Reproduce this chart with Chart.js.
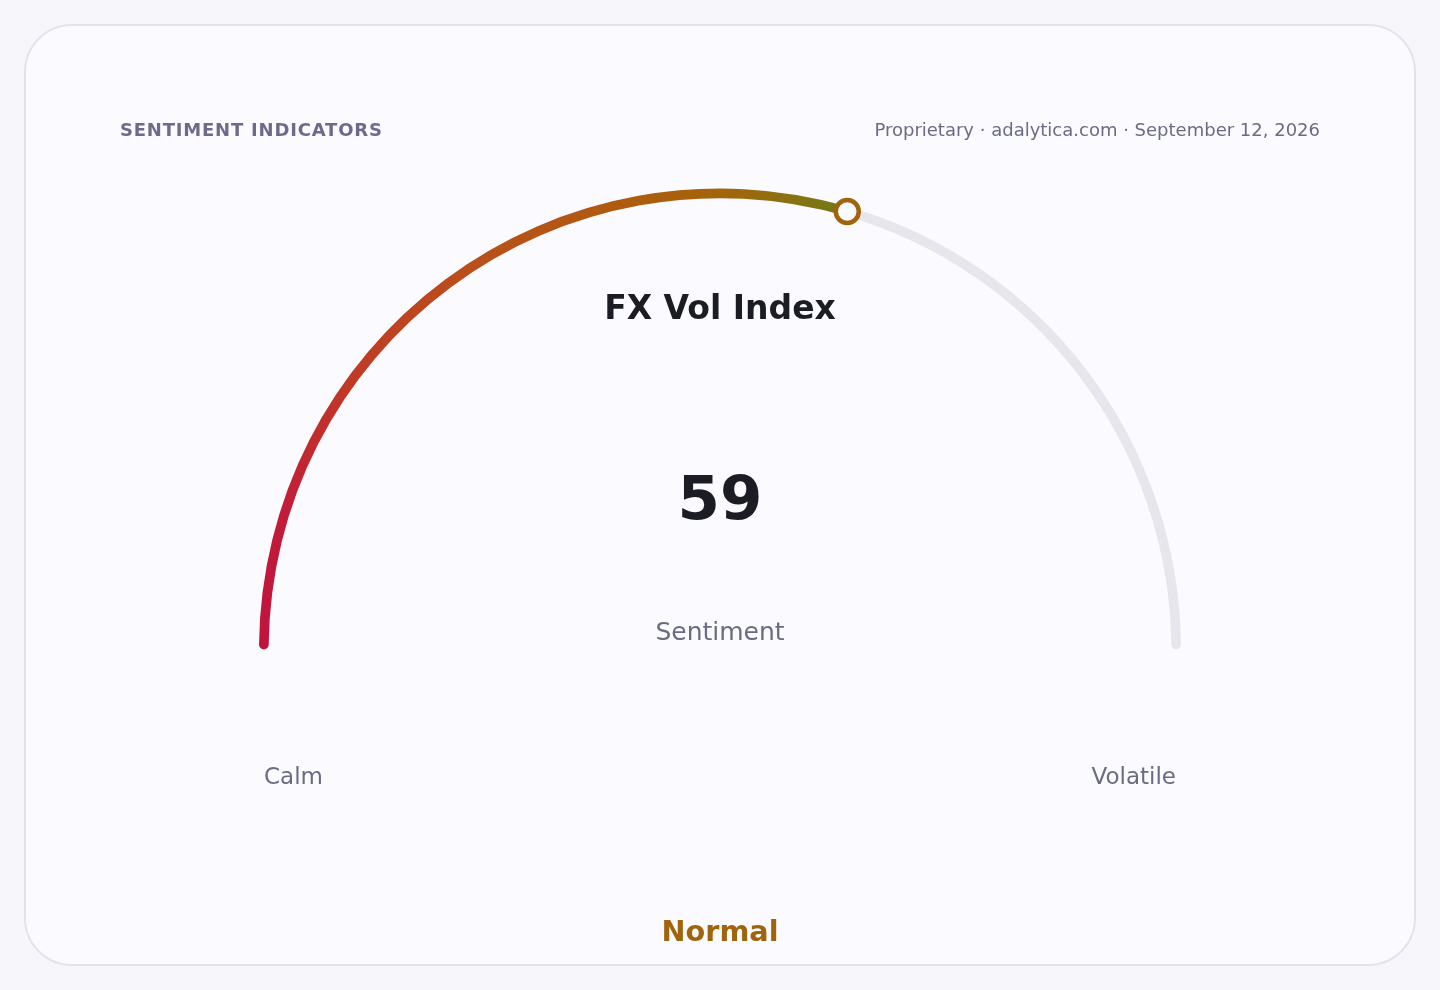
<!DOCTYPE html>
<html>
<head>
<meta charset="utf-8">
<script src="https://cdn.jsdelivr.net/npm/chart.js@4"></script>
<style>
  html, body { margin: 0; padding: 0; background: #f6f6fb; font-family: "DejaVu Sans", sans-serif; }
  .card {
    position: absolute; left: 24px; top: 24px; width: 1388px; height: 938px;
    background: #fafaff; border: 2px solid #e3e3ee; border-radius: 48px;
  }
  .wrap { position: absolute; left: 0; top: 0; width: 1440px; height: 990px; }
  .txt { position: absolute; white-space: nowrap; }
  #kicker { left: 120px; top: 119px; font-size: 18px; font-weight: bold; letter-spacing: 0.8px; color: #6e6a8c; }
  #source { right: 120px; top: 119px; font-size: 18px; color: #6b6b85; }
  #title { left: 0; width: 1440px; text-align: center; top: 288px; font-size: 33px; font-weight: bold; color: #1c1c24; }
  #value { left: 0; width: 1440px; text-align: center; top: 462px; font-size: 61px; font-weight: bold; color: #1c1c24; }
  #sub { left: 0; width: 1440px; text-align: center; top: 617px; font-size: 25px; color: #6b6b85; }
  #lo { left: 264px; top: 763px; font-size: 23px; color: #6b6b85; }
  #hi { right: 264px; top: 763px; font-size: 23px; color: #6b6b85; }
  #band { left: 0; width: 1440px; text-align: center; top: 914px; font-size: 28.7px; font-weight: bold; color: #a0650c; }
</style>
</head>
<body>
<div class="card"></div>
<div class="wrap"><canvas id="gauge"></canvas></div>
<div class="txt" id="kicker"></div>
<div class="txt" id="source"></div>
<div class="txt" id="title"></div>
<div class="txt" id="value"></div>
<div class="txt" id="sub"></div>
<div class="txt" id="lo"></div>
<div class="txt" id="hi"></div>
<div class="txt" id="band"></div>
<script>
const gaugeName = "FX Vol Index";
const gaugeValue = 59;
const gaugeMax = 100;
const endLabels = ["Calm", "Volatile"];
const bandLabel = "Normal";
const subLabel = "Sentiment";
const headerLeft = "SENTIMENT INDICATORS";
const headerRight = "Proprietary · adalytica.com · September 12, 2026";

document.getElementById("kicker").textContent = headerLeft;
document.getElementById("source").textContent = headerRight;
document.getElementById("title").textContent = gaugeName;
document.getElementById("value").textContent = gaugeValue;
document.getElementById("sub").textContent = subLabel;
document.getElementById("lo").textContent = endLabels[0];
document.getElementById("hi").textContent = endLabels[1];
document.getElementById("band").textContent = bandLabel;

// colour ramp along the dial (fraction of full turn, starting at the left end)
function arcFill(context) {
  const chart = context.chart;
  const area = chart.chartArea;
  if (!area || !isFinite(area.left) || !isFinite(area.bottom)) return "#b25a10";
  // half dial: centre sits on the bottom edge of the chart area
  const cx = (area.left + area.right) / 2;
  const cy = area.bottom;
  const g = chart.ctx.createConicGradient(Math.PI, cx, cy);
  g.addColorStop(0, "#c0133e");
  g.addColorStop(0.05, "#c11d38");
  g.addColorStop(0.1, "#c03a27");
  g.addColorStop(0.16, "#b9501a");
  g.addColorStop(0.21, "#b05a10");
  g.addColorStop(0.25, "#a4640a");
  g.addColorStop(0.275, "#8a7212");
  g.addColorStop(0.295, "#6e7a1a");
  g.addColorStop(0.5, "#3f8a2a");
  g.addColorStop(1, "#c0133e");
  return g;
}

const markerPlugin = {
  id: "marker",
  afterDatasetsDraw(chart) {
    const el = chart.getDatasetMeta(0).data[0];
    if (!el) return;
    const r = (el.innerRadius + el.outerRadius) / 2;
    const a = el.endAngle;
    const x = el.x + Math.cos(a) * r;
    const y = el.y + Math.sin(a) * r;
    const ctx = chart.ctx;
    ctx.save();
    ctx.beginPath();
    ctx.arc(x, y, 11.5, 0, Math.PI * 2);
    ctx.fillStyle = "#fafaff";
    ctx.fill();
    ctx.lineWidth = 4.5;
    ctx.strokeStyle = "#a0650c";
    ctx.stroke();
    ctx.restore();
  }
};

new Chart("gauge", {
  type: "doughnut",
  data: {
    labels: ["value", "rest"],
    datasets: [{
      data: [gaugeValue, gaugeMax - gaugeValue],
      backgroundColor: (c) => c.dataIndex === 0 ? arcFill(c) : "#e6e6ec",
      borderWidth: 0,
      borderRadius: (c) => c.dataIndex === 0
        ? {outerStart: 5, innerStart: 5, outerEnd: 0, innerEnd: 0}
        : {outerStart: 0, innerStart: 0, outerEnd: 5, innerEnd: 5},
      clip: false
    }]
  },
  options: {
    responsive: true,
    maintainAspectRatio: false,
    animation: false,
    rotation: -90,
    circumference: 180,
    cutout: "97.9%",
    layout: { padding: { left: 259, right: 259, top: 188, bottom: 340 } },
    plugins: {
      legend: { display: false },
      tooltip: { enabled: false }
    }
  },
  plugins: [markerPlugin]
});
</script>
</body>
</html>
